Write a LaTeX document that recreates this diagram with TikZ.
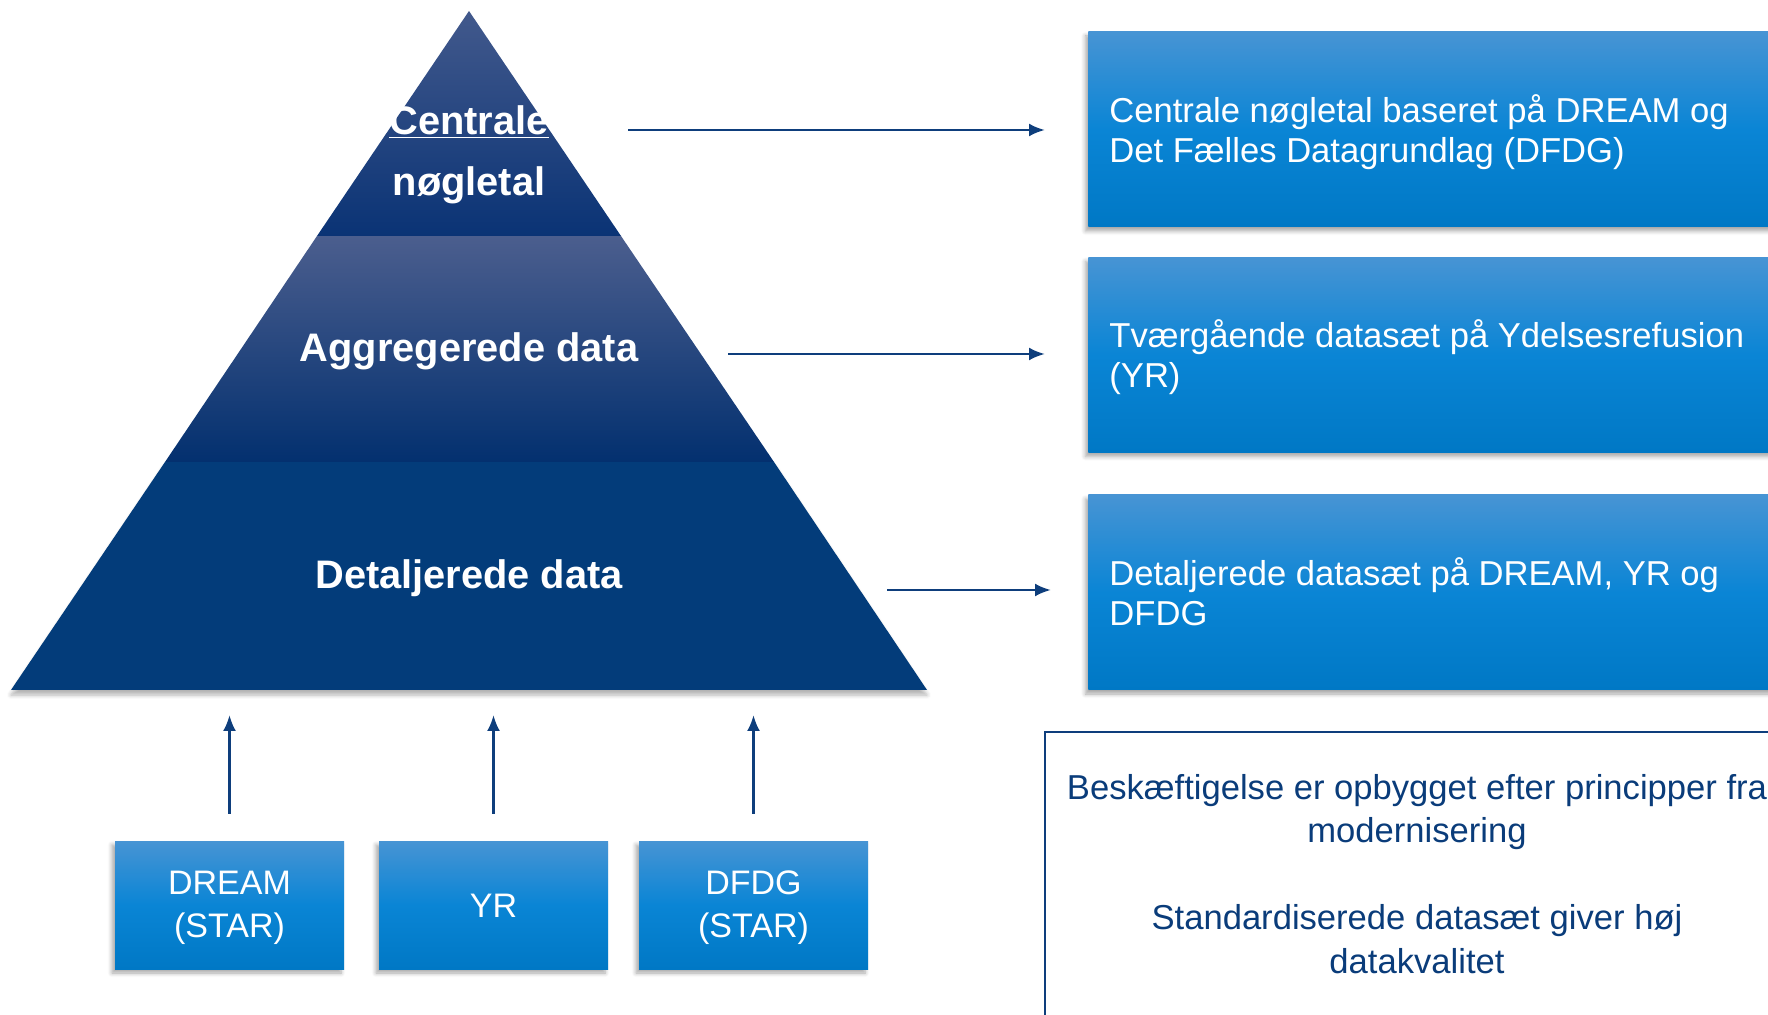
\documentclass[tikz,border=0pt]{standalone}
\usepackage{fontspec}
\setmainfont{Liberation Sans}
\usetikzlibrary{arrows.meta,shadows.blur}
\definecolor{arrowc}{HTML}{0E3E7C}
\definecolor{boxtop}{HTML}{4794D4}
\definecolor{boxmid}{HTML}{0A85D5}
\definecolor{boxbot}{HTML}{0078C5}
\definecolor{pyrA}{HTML}{42598C}
\definecolor{pyrB}{HTML}{0A3375}
\definecolor{pyrC}{HTML}{4B5E8E}
\definecolor{pyrD}{HTML}{03306F}
\definecolor{pyrE}{HTML}{033C7A}
\definecolor{notec}{HTML}{0A3C7A}
\begin{document}
\begin{tikzpicture}[x=0.5pt,y=-0.5pt,
  conn/.style={draw=arrowc, line width=1.3pt, -{Latex[length=8pt,width=6.5pt]}},
  bluebox/.style={top color=boxtop, bottom color=boxbot, middle color=boxmid, text=white,
    blur shadow={shadow xshift=-1.5pt, shadow yshift=-2pt, shadow opacity=35, shadow blur steps=6}},
  rbox/.style={bluebox, anchor=west, minimum width=356pt, minimum height=97.5pt},
  rtext/.style={anchor=west, text=white, align=left, inner sep=0pt, font=\fontsize{17.3}{19.8}\selectfont},
  sbox/.style={bluebox, minimum width=114.5pt, minimum height=64pt},
  stext/.style={text=white, align=center, font=\fontsize{17}{21.5}\selectfont},
  tlabel/.style={text=white, align=center, font=\bfseries\fontsize{19.9}{30.5}\selectfont},
  pshadow/.style={blur shadow={shadow xshift=0pt, shadow yshift=-2.5pt, shadow opacity=30, shadow blur steps=6}}]
\useasboundingbox (0,0) rectangle (1768,1015);
\clip (0,0) rectangle (1768,1015);

% pyramid
\path[pshadow, fill=pyrE] (165,462) -- (774,462) -- (927,690) -- (11,690) -- cycle;
\shade[top color=pyrC, bottom color=pyrD] (317,236) -- (621,236) -- (774,462) -- (165,462) -- cycle;
\shade[top color=pyrA, bottom color=pyrB] (469,11) -- (621,236) -- (317,236) -- cycle;

\node[tlabel] (t1) at (469,155) {\underline{Centrale}\\nøgletal};
\node[tlabel] (t2) at (469,351) {Aggregerede data};
\node[tlabel] (t3) at (469,578) {Detaljerede data};

% right boxes
\node[rbox] (b1) at (1088,129.5) {};
\node[rbox] (b2) at (1088,355) {};
\node[rbox] (b3) at (1088,592.5) {};
\node[rtext] (l1) at (1109,132) {Centrale nøgletal baseret på DREAM og\\Det Fælles Datagrundlag (DFDG)};
\node[rtext] (l2) at (1109,357) {Tværgående datasæt på Ydelsesrefusion\\(YR)};
\node[rtext] (l3) at (1109,592) {Detaljerede datasæt på DREAM, YR og\\DFDG};

% horizontal arrows
\coordinate (h1) at (628,130);
\coordinate (h2) at (728,354);
\coordinate (h3) at (887,590);
\draw[conn, shorten >=21.5pt] (h1) -- (h1 -| b1.west);
\draw[conn, shorten >=21.5pt] (h2) -- (h2 -| b2.west);
\draw[conn, shorten >=18.5pt] (h3) -- (h3 -| b3.west);

% bottom source boxes
\node[sbox] (s1) at (229.5,905) {};
\node[sbox] (s2) at (493.5,905) {};
\node[sbox] (s3) at (753.5,905) {};
\node[stext] (d1) at (229.5,908) {DREAM\\(STAR)};
\node[stext] (d2) at (493.5,906) {YR};
\node[stext] (d3) at (753.5,908) {DFDG\\(STAR)};

\coordinate (v1) at (229.5,715);
\coordinate (v2) at (493.5,715);
\coordinate (v3) at (753.5,715);
\draw[conn, shorten <=13.5pt] (s1.north) -- (v1);
\draw[conn, shorten <=13.5pt] (s2.north) -- (v2);
\draw[conn, shorten <=13.5pt] (s3.north) -- (v3);

% note frame
\draw[draw=arrowc, line width=0.9pt] (1045,732) rectangle (1800,1040);
\node[text=notec, align=center, font=\fontsize{17.3}{21.75}\selectfont] (note) at (1417,874)
  {Beskæftigelse er opbygget efter principper fra\\modernisering\\[21.75pt]Standardiserede datasæt giver høj\\datakvalitet};
\end{tikzpicture}
\end{document}
